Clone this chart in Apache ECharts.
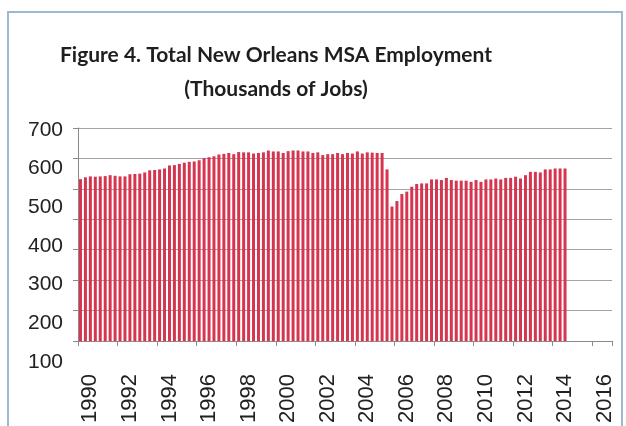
<!DOCTYPE html>
<html>
<head>
<meta charset="utf-8">
<script src="https://cdn.jsdelivr.net/npm/echarts@6/dist/echarts.min.js"></script>
<style>
html,body{margin:0;padding:0;background:#fff;}
#chart{width:626px;height:426px;}
</style>
</head>
<body>
<div id="chart"></div>
<script>
// Quarterly categories 1990Q1 .. 2016Q4
var years = [];
for (var y = 1990; y <= 2016; y++) years.push(y);
var quarters = [];
years.forEach(function (y) { ['Q1','Q2','Q3','Q4'].forEach(function (q) { quarters.push(y + ' ' + q); }); });

// Employment, thousands of jobs, 1990Q1 .. 2014Q3
var employment = [
  532, 538, 541, 540, 541, 542, 545, 543, 541, 541,
  548, 549, 550, 554, 561, 562, 564, 567, 577, 578,
  582, 586, 589, 590, 594, 601, 604, 607, 613, 615,
  618, 614, 621, 620, 620, 616, 618, 620, 626, 623,
  623, 618, 624, 626, 626, 623, 623, 618, 620,
  611, 614, 614, 618, 614, 618, 616, 623, 616, 620, 619, 618, 618,
  564,
  442, 460, 483, 491, 507, 516, 518, 518, 531, 531,
  529, 536, 529, 527, 527, 527, 523, 529, 523, 531,
  531, 534, 531, 536, 536, 540, 534, 545, 556, 556,
  554, 564, 564, 567, 567, 567
];

var yLabelTicks = [100, 200, 300, 400, 500, 600, 700];
var titleLines = ['Figure 4. Total New Orleans MSA Employment', '(Thousands of Jobs)'];

var chart = echarts.init(document.getElementById('chart'), null, {renderer: 'canvas'});
chart.setOption({
  backgroundColor: '#ffffff',
  animation: false,
  title: {
    text: titleLines.join('\n'),
    left: 271,
    top: 33,
    textAlign: 'center',
    textStyle: {
      fontFamily: 'Lato',
      fontWeight: 'bold',
      fontSize: 21,
      lineHeight: 34,
      color: '#1e1e1e'
    }
  },
  graphic: [{
    type: 'rect',
    shape: {x: 8, y: 12, width: 614, height: 430},
    style: {fill: 'none', stroke: '#9db8cf', lineWidth: 2},
    silent: true
  }],
  grid: [
    {left: 78, right: 14, top: 128, bottom: 83},
    {left: 78, right: 14, top: 130, bottom: 64}
  ],
  xAxis: [
    {
      type: 'category',
      gridIndex: 0,
      data: quarters,
      boundaryGap: true,
      axisLine: {show: true, lineStyle: {color: '#8a8a8a', width: 1}},
      axisTick: {show: true, length: 5, interval: function (i) { return i % 8 === 0; }, lineStyle: {color: '#8a8a8a'}},
      axisLabel: {
        show: true,
        rotate: 90,
        margin: 33,
        padding: [5, 0, 0, 0],
        interval: function (i) { return i % 8 === 2; },
        formatter: function (v) { return v.slice(0, 4); },
        fontFamily: 'Liberation Sans',
        fontSize: 22,
        color: '#222222'
      },
      splitLine: {show: false}
    },
    {
      type: 'category',
      gridIndex: 1,
      data: ['a'],
      show: false
    }
  ],
  yAxis: [
    {
      type: 'value',
      gridIndex: 0,
      min: 0,
      max: 700,
      interval: 100,
      axisLine: {show: true, lineStyle: {color: '#8a8a8a', width: 1}},
      axisTick: {show: true, length: 5, lineStyle: {color: '#8a8a8a'}},
      axisLabel: {show: false},
      splitLine: {show: true, lineStyle: {color: '#a3a3a3', width: 1}}
    },
    {
      type: 'value',
      gridIndex: 1,
      min: yLabelTicks[0],
      max: yLabelTicks[yLabelTicks.length - 1],
      interval: 100,
      axisLine: {show: false},
      axisTick: {show: false},
      splitLine: {show: false},
      axisLabel: {
        show: true,
        margin: 15,
        fontFamily: 'Liberation Sans',
        fontSize: 21,
        color: '#222222'
      }
    }
  ],
  series: [{
    type: 'bar',
    name: 'Employment',
    xAxisIndex: 0,
    yAxisIndex: 0,
    data: employment,
    barWidth: 3,
    itemStyle: {color: '#d6354f'}
  }]
});
</script>
</body>
</html>
